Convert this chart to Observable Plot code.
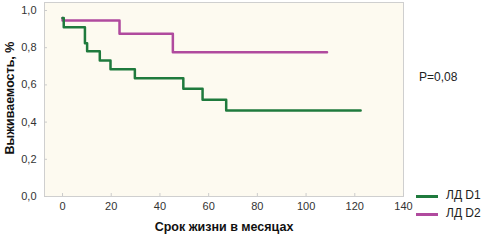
<!DOCTYPE html>
<html><head><meta charset="utf-8">
<script src="https://cdn.jsdelivr.net/npm/d3@7"></script>
<script src="https://cdn.jsdelivr.net/npm/@observablehq/plot@0.6"></script>
<style>
body{margin:0;background:#fff;font-family:"Liberation Sans",Arial,sans-serif;}
#wrap{position:relative;width:487px;height:245px;}
.lg{position:absolute;font-size:12px;color:#222;white-space:nowrap;}
.sw{position:absolute;height:3px;width:22px;}
.yt{position:absolute;font-size:12.5px;font-weight:bold;color:#111;white-space:nowrap;transform:translate(-50%,-50%) rotate(-90deg);}
</style></head>
<body><div id="wrap"></div>
<script>
const d1Time = [0, 9.2, 10.1, 15.3, 19.7, 29.7, 49.6, 57.5, 67.2, 122.4];
const d1Surv = [0.91, 0.824, 0.781, 0.731, 0.684, 0.636, 0.579, 0.52, 0.462, 0.462];
const d2Time = [0, 23.4, 45.3, 108.6];
const d2Surv = [0.946, 0.875, 0.776, 0.776];
const startSurv = 0.96;
const xTicks = [0, 20, 40, 60, 80, 100, 120, 140];
const yTicks = [0, 0.2, 0.4, 0.6, 0.8, 1.0];
const seriesNames = ["ЛД D1", "ЛД D2"];
const colors = ["#1f7a3d", "#b04a9e"];
const pText = "P=0,08";
const xTitle = "Срок жизни в месяцах";
const yTitle = "Выживаемость, %";

const d1 = [{t: 0, s: startSurv}].concat(d1Time.map((t, i) => ({t, s: d1Surv[i]})));
const d2 = [{t: 0, s: startSurv}].concat(d2Time.map((t, i) => ({t, s: d2Surv[i]})));
d1[1].t = 0.5;

const chart = Plot.plot({
  width: 487, height: 245,
  marginLeft: 44, marginRight: 84, marginTop: 2, marginBottom: 49,
  style: {background: "transparent", fontFamily: "Liberation Sans, Arial, sans-serif", fontSize: "11px", color: "#333"},
  x: {domain: [-7.4, 140]},
  y: {domain: [0, 1.043]},
  marks: [
    Plot.frame({fill: "#fdfaf0", stroke: "#cfcfcf"}),
    Plot.axisX({ticks: xTicks, tickSize: 0, tickPadding: 6, label: null, fill: "#333"}),
    Plot.axisX({ticks: xTicks, tickSize: -3, tickFormat: () => "", stroke: "#ccc", label: null}),
    Plot.axisY({ticks: yTicks, tickSize: 0, tickPadding: 8, label: null, tickFormat: d => d.toFixed(1).replace(".", ","), fill: "#333"}),
    Plot.axisY({ticks: yTicks, tickSize: -3, tickFormat: () => "", stroke: "#ccc", label: null}),
    Plot.line(d2, {x: "t", y: "s", curve: "step-after", stroke: colors[1], strokeWidth: 2.5}),
    Plot.line(d1, {x: "t", y: "s", curve: "step-after", stroke: colors[0], strokeWidth: 2.5}),
    Plot.text([xTitle], {frameAnchor: "bottom", dy: 34, text: d => d, fontWeight: "bold", fontSize: 12.5, fill: "#111"})
  ]
});
const wrap = document.getElementById("wrap");
wrap.appendChild(chart);
function add(html, cls, style) {
  const e = document.createElement("div");
  e.className = cls; e.textContent = html; Object.assign(e.style, style); wrap.appendChild(e);
}
add(yTitle, "yt", {left: "10px", top: "98px"});
add(pText, "lg", {left: "419px", top: "70px"});
seriesNames.forEach((n, i) => {
  add("", "sw", {left: "416px", top: (195 + i * 18) + "px", background: colors[i]});
  add(n, "lg", {left: "446px", top: (188 + i * 18) + "px"});
});
</script></body></html>
